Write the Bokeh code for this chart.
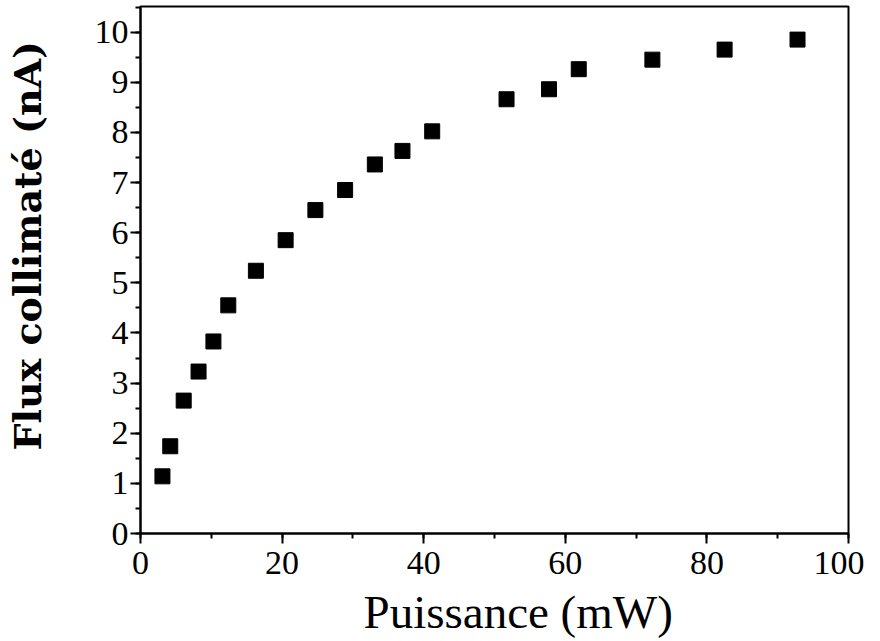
from bokeh.plotting import figure
from bokeh.models import SingleIntervalTicker, FixedTicker, Range1d, Title, LinearAxis
from bokeh.embed import file_html
from bokeh.resources import INLINE

power_mw = [3.1, 4.2, 6.1, 8.2, 10.3, 12.4, 16.3, 20.5, 24.7, 28.9, 33.1, 37.0, 41.2,
            51.7, 57.7, 61.9, 72.3, 82.5, 92.8]
flux_na = [1.14, 1.74, 2.65, 3.23, 3.83, 4.55, 5.24, 5.85, 6.45, 6.85, 7.36, 7.63, 8.02,
           8.66, 8.86, 9.26, 9.45, 9.65, 9.85]
x_title = "Puissance (mW)"
y_title = "Flux collimaté (nA)"

FONT = "Liberation Serif"

p = figure(width=864, height=641, output_backend="svg", toolbar_location=None,
           x_range=Range1d(0, 100), y_range=Range1d(0, 10.51),
           min_border_left=140, min_border_right=16, min_border_top=6, min_border_bottom=108)

p.scatter(power_mw, flux_na, marker="square", size=15, fill_color="black", line_color="black")

p.xgrid.visible = False
p.ygrid.visible = False
p.outline_line_color = "black"
p.outline_line_width = 2
p.outline_line_alpha = 1

p.xaxis.ticker = SingleIntervalTicker(interval=20, num_minor_ticks=2)
p.yaxis.ticker = SingleIntervalTicker(interval=1, num_minor_ticks=2)

for ax in (p.xaxis, p.yaxis):
    ax.axis_line_width = 2
    ax.axis_line_color = "black"
    ax.major_tick_line_width = 2
    ax.minor_tick_line_width = 2
    ax.major_tick_line_color = "black"
    ax.minor_tick_line_color = "black"
    ax.major_tick_out = 10
    ax.major_tick_in = 0
    ax.minor_tick_out = 5
    ax.minor_tick_in = 0
    ax.major_label_text_font = FONT
    ax.major_label_text_font_size = "34px"
    ax.major_label_text_color = "black"

p.xaxis.major_label_standoff = 8
p.yaxis.major_label_standoff = 2


def spacer(gap, at):
    # invisible axis used only to push the title outward
    return LinearAxis(ticker=FixedTicker(ticks=[at]), axis_line_alpha=0,
                      major_tick_out=gap, major_tick_in=0, minor_tick_out=0, minor_tick_in=0,
                      major_tick_line_color="white", major_tick_line_width=1,
                      major_label_text_font_size="1px", major_label_text_color="white",
                      major_label_overrides={at: ""},
                      major_label_standoff=0, axis_label_standoff=0)


p.add_layout(spacer(7, 100), "below")
p.add_layout(spacer(42, 10.5), "left")

p.add_layout(Title(text=x_title, text_font=FONT, text_font_size="47px",
                   text_font_style="normal", text_color="black",
                   align="left", offset=223, standoff=0), "below")
p.add_layout(Title(text=y_title, text_font="DejaVu Serif", text_font_size="38px",
                   text_font_style="bold", text_color="black",
                   align="left", offset=83, standoff=0), "left")

open("out.html", "w").write(file_html(p, INLINE))
